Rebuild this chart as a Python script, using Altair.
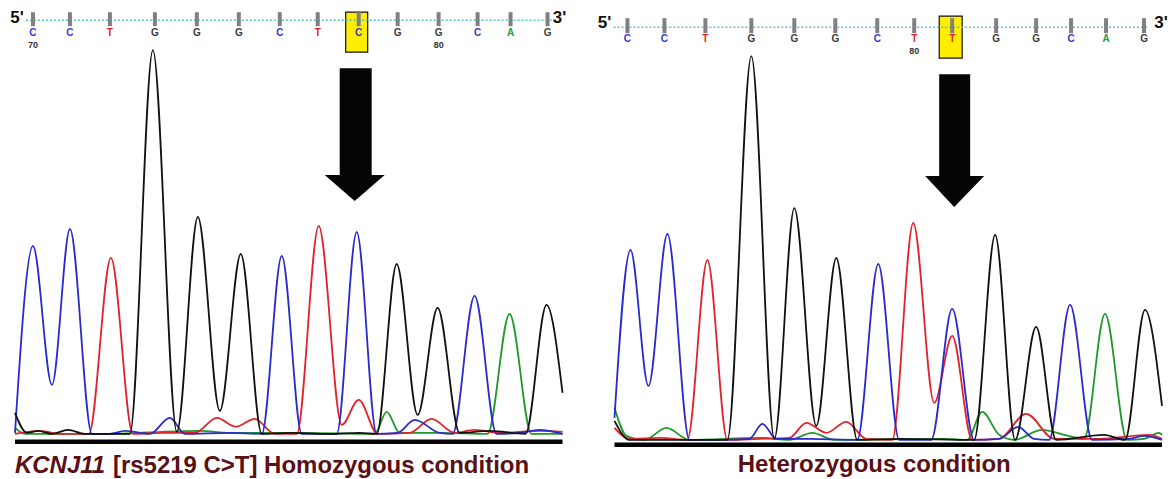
import altair as alt
import pandas as pd

# ---------------- Left panel: homozygous ----------------
L_BASES = list("CCTGGGCTCGGCAG")
L_BASE_SCAN = [18, 55, 95, 140, 182, 224, 265, 303, 344, 383, 424, 463, 496, 533]
L_NUMBER_IDX = [0, 10]
L_NUMBER_TXT = ["70", "80"]
L_MARK_IDX = 8  # highlighted base (C)

L_C_X = [0, 18, 37, 55, 77, 95, 110, 135, 155, 170, 215, 247, 267, 287, 322, 342, 362, 383, 400, 425, 438, 460, 482, 505, 525, 548]
L_C_Y = [2, 189, 50, 206, 1, 1, 4, 1, 17, 1, 2, 1, 179, 1, 1, 203, 1, 2, 15, 2, 1, 139, 1, 2, 5, 1]
L_T_X = [0, 25, 45, 74, 96, 118, 145, 180, 202, 221, 240, 260, 282, 304, 327, 344, 363, 395, 417, 440, 460, 485, 525, 548]
L_T_Y = [1, 4, 1, 1, 177, 1, 2, 2, 17, 8, 16, 1, 1, 209, 10, 35, 1, 2, 16, 2, 5, 2, 4, 3]
L_G_X = [0, 12, 23, 37, 53, 70, 115, 138, 162, 183, 205, 226, 247, 275, 315, 345, 362, 382, 403, 423, 445, 475, 511, 532, 548]
L_G_Y = [22, 2, 4, 1, 5, 1, 1, 385, 3, 218, 24, 181, 1, 2, 1, 2, 1, 171, 20, 127, 2, 4, 1, 130, 42]
L_A_X = [0, 10, 85, 185, 215, 285, 360, 372, 385, 425, 473, 495, 517, 548]
L_A_Y = [7, 1, 1, 4, 2, 2, 1, 23, 2, 2, 1, 121, 1, 1]

# ---------------- Right panel: heterozygous ----------------
R_BASES = list("CCTGGGCTTGGCAG")
R_BASE_SCAN = [13, 50, 91, 137, 180, 221, 263, 300, 338, 382, 422, 457, 492, 530]
R_NUMBER_IDX = [7]
R_NUMBER_TXT = ["80"]
R_MARK_IDX = 8  # highlighted base (T)

R_C_X = [0, 16, 34, 53, 75, 105, 135, 148, 162, 195, 243, 264, 285, 317, 338, 360, 385, 404, 420, 435, 456, 478, 515, 530, 548]
R_C_Y = [23, 191, 55, 207, 1, 1, 2, 17, 2, 2, 1, 177, 1, 1, 132, 1, 2, 14, 2, 1, 136, 1, 2, 5, 1]
R_T_X = [0, 15, 45, 73, 93, 113, 145, 175, 192, 212, 232, 252, 278, 299, 320, 338, 358, 385, 412, 440, 485, 535, 548]
R_T_Y = [13, 2, 3, 1, 181, 1, 2, 3, 18, 8, 19, 2, 1, 218, 38, 105, 1, 2, 27, 2, 2, 6, 2]
R_G_X = [0, 15, 85, 113, 137, 160, 180, 202, 222, 243, 285, 360, 381, 401, 422, 442, 490, 511, 531, 548]
R_G_Y = [20, 1, 1, 1, 385, 2, 233, 15, 183, 1, 2, 1, 206, 1, 114, 1, 6, 1, 131, 35]
R_A_X = [0, 12, 30, 52, 75, 145, 175, 198, 220, 330, 353, 368, 385, 400, 428, 450, 470, 491, 513, 530, 545, 548]
R_A_Y = [33, 5, 1, 13, 1, 3, 1, 8, 1, 2, 1, 29, 6, 1, 11, 6, 2, 127, 1, 2, 8, 6]

# ---------------- layout (scan / signal units of each panel) ----------------
LEFT_LAYOUT = dict(
    xdom=[-7, 563], ydom=[-46, 424],
    five_x=2, three_x=545, end_y=417,
    ruler_x=[11, 537], ruler_y=415, tick_top=423, tick_bot=409,
    letter_y=402, number_y=390,
    box_x=[331, 353], box_y=[383, 423],
    shaft_x=[325, 357], shaft_y=[260, 367], head_x=[310, 340, 370], head_base=260, head_tip=234,
    bar_x=[0, 548], bar_y=-7,
    cap_y=-31,
)
RIGHT_LAYOUT = dict(
    xdom=[-17, 553], ydom=[-40, 430],
    five_x=-10, three_x=547, end_y=418,
    ruler_x=[-1, 535], ruler_y=414, tick_top=423, tick_bot=408,
    letter_y=402, number_y=390,
    box_x=[325, 348], box_y=[383, 425],
    shaft_x=[325, 356], shaft_y=[265, 367], head_x=[311, 340, 370], head_base=265, head_tip=234,
    bar_x=[0, 548], bar_y=-4,
    cap_y=-24,
)

TRACE_COLORS = {"A": "#1f9a2a", "C": "#2a2ad0", "G": "#111111", "T": "#e2232b"}
LETTER_COLORS = {"A": "#2a9a40", "C": "#3535cc", "G": "#3a3a3a", "T": "#dd1f26"}
CAPTION_COLOR = "#5a1015"
FONT = "Liberation Sans"


def make_panel(traces, bases, base_scan, num_idx, num_txt, mark_idx, L, captions):
    xs = alt.Scale(domain=L["xdom"], nice=False, zero=False)
    ys = alt.Scale(domain=L["ydom"], nice=False, zero=False)

    def X(f):
        return alt.X(f, type="quantitative", scale=xs, axis=None)

    def Y(f):
        return alt.Y(f, type="quantitative", scale=ys, axis=None)

    rows = []
    for b, (tx, ty) in traces.items():
        for i, (a, v) in enumerate(zip(tx, ty)):
            rows.append({"scan": a, "signal": v, "base": b, "i": i})
    tdf = pd.DataFrame(rows)

    bdf = pd.DataFrame({
        "scan": base_scan, "base": bases,
        "hex": [LETTER_COLORS[b] for b in bases],
        "top": L["tick_top"], "bot": L["tick_bot"], "ly": L["letter_y"],
    })
    ndf = pd.DataFrame({"scan": [base_scan[i] for i in num_idx], "txt": num_txt, "y": L["number_y"]})

    box = alt.Chart(pd.DataFrame({"x": [L["box_x"][0]], "x2": [L["box_x"][1]],
                                  "y": [L["box_y"][0]], "y2": [L["box_y"][1]]})).mark_rect(
        fill="#ffee00", stroke="#111111", strokeWidth=1.2).encode(
        x=X("x"), x2=alt.X2("x2"), y=Y("y"), y2=alt.Y2("y2"))

    ruler = alt.Chart(pd.DataFrame({"x": [L["ruler_x"][0]], "x2": [L["ruler_x"][1]],
                                    "y": [L["ruler_y"]]})).mark_rule(
        color="#58c4c6", strokeWidth=1.6, strokeDash=[2, 2]).encode(
        x=X("x"), x2=alt.X2("x2"), y=Y("y"))

    ticks = alt.Chart(bdf).mark_rule(color="#808080", strokeWidth=4).encode(
        x=X("scan"), y=Y("top"), y2=alt.Y2("bot"))

    letters = alt.Chart(bdf).mark_text(font=FONT, fontSize=10, fontWeight="bold",
                                       baseline="middle").encode(
        x=X("scan"), y=Y("ly"), text="base:N", color=alt.Color("hex:N", scale=None))

    nums = alt.Chart(ndf).mark_text(font=FONT, fontSize=9, fontWeight="bold",
                                    color="#333333", baseline="middle").encode(
        x=X("scan"), y=Y("y"), text="txt:N")

    ends = alt.Chart(pd.DataFrame({"x": [L["five_x"], L["three_x"]], "y": [L["end_y"]] * 2,
                                   "t": ["5'", "3'"]})).mark_text(
        font=FONT, fontSize=17, fontWeight="bold", color="#111111", baseline="middle").encode(
        x=X("x"), y=Y("y"), text="t:N")

    shaft = alt.Chart(pd.DataFrame({"x": [L["shaft_x"][0]], "x2": [L["shaft_x"][1]],
                                    "y": [L["shaft_y"][0]], "y2": [L["shaft_y"][1]]})).mark_rect(
        color="#050505").encode(x=X("x"), x2=alt.X2("x2"), y=Y("y"), y2=alt.Y2("y2"))

    head = alt.Chart(pd.DataFrame({"x": L["head_x"],
                                   "y": [L["head_base"]] * 3,
                                   "y2": [L["head_base"], L["head_tip"], L["head_base"]]})).mark_area(
        color="#050505", opacity=1).encode(x=X("x"), y=Y("y"), y2=alt.Y2("y2"))

    lines = alt.Chart(tdf).mark_line(interpolate="monotone", strokeWidth=1.8).encode(
        x=X("scan"), y=Y("signal"),
        color=alt.Color("base:N", scale=alt.Scale(domain=list(TRACE_COLORS.keys()),
                                                  range=list(TRACE_COLORS.values())), legend=None),
        detail="base:N", order="i:Q")

    bar = alt.Chart(pd.DataFrame({"x": [L["bar_x"][0]], "x2": [L["bar_x"][1]],
                                  "y": [L["bar_y"]]})).mark_rule(
        color="#050505", strokeWidth=4.5).encode(x=X("x"), x2=alt.X2("x2"), y=Y("y"))

    caps = []
    for c in captions:
        caps.append(alt.Chart(pd.DataFrame({"x": [c["x"]], "y": [L["cap_y"]], "t": [c["text"]]})).mark_text(
            font=FONT, fontSize=24, fontWeight="bold", fontStyle=c.get("style", "normal"),
            color=CAPTION_COLOR, align=c["align"], baseline="middle").encode(
            x=X("x"), y=Y("y"), text="t:N"))

    return alt.layer(box, ruler, ticks, letters, nums, ends, shaft, head, lines, bar, *caps).properties(
        width=570, height=470)


left = make_panel(
    {"A": (L_A_X, L_A_Y), "T": (L_T_X, L_T_Y), "C": (L_C_X, L_C_Y), "G": (L_G_X, L_G_Y)},
    L_BASES, L_BASE_SCAN, L_NUMBER_IDX, L_NUMBER_TXT, L_MARK_IDX, LEFT_LAYOUT,
    [dict(x=0, text="KCNJ11", align="left", style="italic"),
     dict(x=98, text="[rs5219 C>T] Homozygous condition", align="left")],
)
right = make_panel(
    {"A": (R_A_X, R_A_Y), "T": (R_T_X, R_T_Y), "C": (R_C_X, R_C_Y), "G": (R_G_X, R_G_Y)},
    R_BASES, R_BASE_SCAN, R_NUMBER_IDX, R_NUMBER_TXT, R_MARK_IDX, RIGHT_LAYOUT,
    [dict(x=260, text="Heterozygous condition", align="center")],
)

chart = alt.hconcat(left, right, spacing=20).properties(
    padding=0, background="white").configure_view(stroke=None)

chart.save("out.html", embed_options={"renderer": "svg", "actions": False})
